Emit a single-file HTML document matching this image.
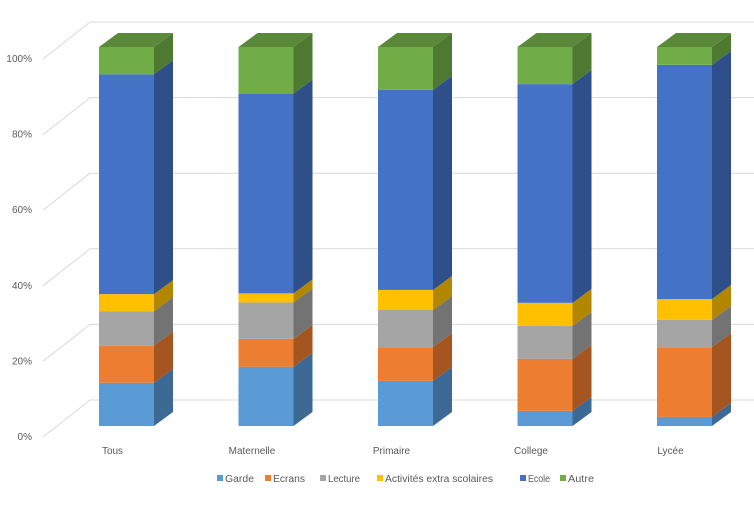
<!DOCTYPE html>
<html><head><meta charset="utf-8"><style>
body{margin:0;background:#fff;font-family:"Liberation Sans",sans-serif}
svg text{font-family:"Liberation Sans",sans-serif;fill:#595959;font-size:10px}
</style></head><body>
<svg width="754" height="504" id="c"></svg>
<script>
const categories=["Tous","Maternelle","Primaire","College","Lycée"];
const seriesNames=["Garde","Ecrans","Lecture","Activités extra scolaires","Ecole","Autre"];
const garde=[11.4,15.6,11.9,4.0,2.4];
const ecrans=[9.8,7.4,8.9,13.7,18.4];
const lecture=[9.1,9.6,9.8,8.7,7.2];
const activites=[4.5,2.4,5.3,6.1,5.5];
const ecole=[58.0,52.7,52.8,57.7,61.8];
const autre=[7.2,12.3,11.3,9.8,4.7];
const yTicks=["0%","20%","40%","60%","80%","100%"];
const colors=["#5b9bd5","#ed7d31","#a5a5a5","#ffc000","#4472c4","#70ad47"];
const sides=["#3d6a94","#a55520","#737373","#b38600","#2e4f8a","#4d7a30"];
const tops=["#4a82b5","#c86828","#8c8c8c","#d9a300","#375fa6","#5a8a39"];
const series=[garde,ecrans,lecture,activites,ecole,autre];
const svg=document.getElementById('c');const NS="http://www.w3.org/2000/svg";
function mk(t,a,p){const e=document.createElementNS(NS,t);for(const k in a)e.setAttribute(k,a[k]);(p||svg).appendChild(e);return e;}
const y=v=>426-v*3.79; const yBack=v=>400-v*3.78; const yFront=v=>437-v*3.78;
const xc=i=>126.5+i*139.5;
yTicks.forEach((t,i)=>{const v=i*20;
 const l=mk('line',{x1:90,y1:yBack(v),x2:754,y2:yBack(v),stroke:'#d9d9d9'});
 
 const d=mk('line',{x1:43,y1:yFront(v),x2:90,y2:yBack(v),stroke:'#d9d9d9'});
 
 const tx=mk('text',{x:32,y:yFront(v)+3,'text-anchor':'end'});tx.textContent=t;
 
});
const dx=19,dy=14,w=55;
categories.forEach((c,i)=>{
 const g=mk('g',{});
 const x1=xc(i)-w/2,x2=x1+w;let cum=0;
 series.forEach((s,k)=>{const b=y(cum),t=y(cum+s[i]);cum+=s[i];
  const f=mk('rect',{x:x1,y:t,width:w,height:b-t,fill:colors[k]},g);
  
  const sd=mk('polygon',{points:`${x2},${b} ${x2+dx},${b-dy} ${x2+dx},${t-dy} ${x2},${t}`,fill:sides[k]},g);
  
  if(k===series.length-1){const tp=mk('polygon',{points:`${x1},${t} ${x1+dx},${t-dy} ${x2+dx},${t-dy} ${x2},${t}`,fill:tops[k]},g);
   }
 });
 const lb=mk('text',{x:xc(i)-14,y:454,'text-anchor':'middle'});lb.textContent=c;
 
});
const lx=[217,265,320,377,520,560];
const lw=[29,32,32,108,22,26];
seriesNames.forEach((n,k)=>{
 const g=mk('g',{});
 mk('rect',{x:lx[k],y:475,width:6,height:6,fill:colors[k]},g);
 const t=mk('text',{x:lx[k]+8,y:482,textLength:lw[k],lengthAdjust:'spacingAndGlyphs','font-size':'9.5'},g);t.textContent=n;
});
</script>
</body></html>
